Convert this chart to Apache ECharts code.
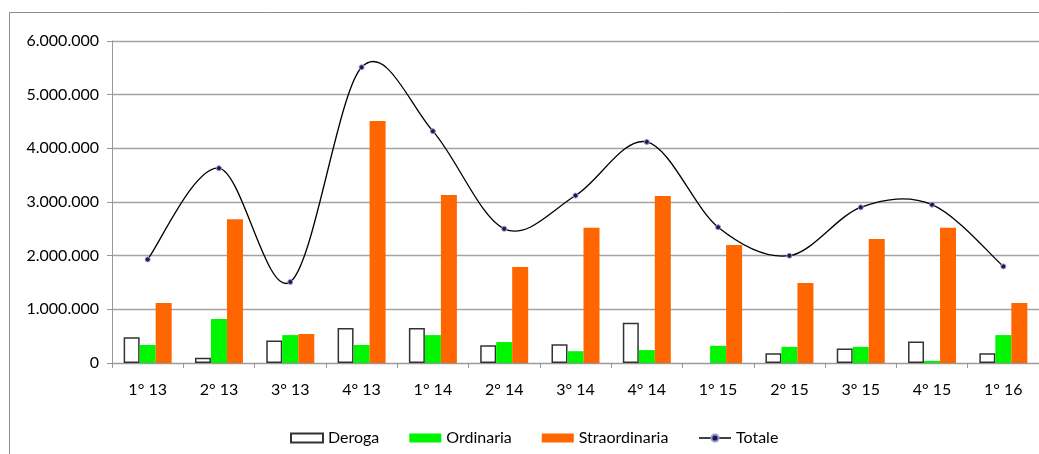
<!DOCTYPE html>
<html>
<head>
<meta charset="utf-8">
<script src="https://cdn.jsdelivr.net/npm/echarts@6/dist/echarts.min.js"></script>
<style>
  html, body { margin: 0; padding: 0; background: #fff; }
</style>
</head>
<body>
<div id="chart" style="width: 1039px; height: 454px;"></div>
<script>
// trimestri
var categories = ["1° 13", "2° 13", "3° 13", "4° 13", "1° 14", "2° 14", "3° 14",
                  "4° 14", "1° 15", "2° 15", "3° 15", "4° 15", "1° 16"];
var deroga = [480000, 100000, 420000, 650000, 650000, 330000, 350000,
              750000, null, 180000, 270000, 400000, 180000];
var ordinaria = [335000, 820000, 520000, 335000, 520000, 390000, 220000,
                 240000, 320000, 300000, 300000, 40000, 520000];
var straordinaria = [1120000, 2680000, 540000, 4510000, 3130000, 1790000, 2520000,
                     3110000, 2200000, 1490000, 2310000, 2520000, 1120000];
var totale = [1930000, 3630000, 1510000, 5510000, 4320000, 2500000, 3120000,
              4120000, 2530000, 2000000, 2900000, 2950000, 1800000];

var FONT = "Lato";

function formatNum(v) {
  return String(v).replace(/\B(?=(\d{3})+(?!\d))/g, ".");
}

// curva smussata tipo Excel (Catmull-Rom), un segmento per punto
function renderCurve(params, api) {
  var i = params.dataIndex;
  if (i >= totale.length - 1) return null;
  var pt = function (k) {
    k = Math.max(0, Math.min(totale.length - 1, k));
    return api.coord([k, totale[k]]);
  };
  var p0 = pt(i - 1), p1 = pt(i), p2 = pt(i + 1), p3 = pt(i + 2);
  return {
    type: "bezierCurve",
    shape: {
      x1: p1[0], y1: p1[1],
      cpx1: p1[0] + (p2[0] - p0[0]) / 6, cpy1: p1[1] + (p2[1] - p0[1]) / 6,
      cpx2: p2[0] - (p3[0] - p1[0]) / 6, cpy2: p2[1] - (p3[1] - p1[1]) / 6,
      x2: p2[0], y2: p2[1]
    },
    style: { fill: "none", stroke: "#000", lineWidth: 1.3 },
    silent: true
  };
}

var chart = echarts.init(document.getElementById("chart"));

chart.setOption({
  animation: false,
  textStyle: { fontFamily: FONT },
  graphic: [{
    type: "rect",
    shape: { x: 9.5, y: 12.5, width: 1100, height: 500 },
    style: { fill: "none", stroke: "#8c8c8c", lineWidth: 1 },
    silent: true
  }],
  grid: { left: 112, right: 0, top: 41, bottom: 91 },
  legend: {
    bottom: 3,
    left: 285,
    itemWidth: 32,
    itemHeight: 9,
    itemGap: 30,
    textStyle: { fontFamily: FONT, fontSize: 16, color: "#000" },
    data: [
      { name: "Deroga", icon: "rect" },
      { name: "Ordinaria", icon: "rect" },
      { name: "Straordinaria", icon: "rect" },
      { name: "Totale", lineStyle: { color: "#000", width: 1.3, opacity: 1 } }
    ]
  },
  xAxis: {
    type: "category",
    data: categories,
    boundaryGap: true,
    axisLine: { lineStyle: { color: "#999", width: 1 } },
    axisTick: { show: true, length: 5, lineStyle: { color: "#999" } },
    axisLabel: { color: "#000", fontSize: 16, margin: 19, fontFamily: FONT }
  },
  yAxis: {
    type: "value",
    min: 0,
    max: 6000000,
    interval: 1000000,
    axisLine: { show: true, lineStyle: { color: "#999", width: 1 } },
    axisTick: { show: true, length: 5, lineStyle: { color: "#999" } },
    axisLabel: {
      color: "#000", fontSize: 16, margin: 13, fontFamily: FONT,
      formatter: formatNum
    },
    splitLine: { lineStyle: { color: "#a3a3a3", width: 1.3 } }
  },
  series: [
    {
      name: "Deroga",
      type: "bar",
      data: deroga,
      barWidth: 16,
      barGap: "0%",
      itemStyle: { color: "#ffffff", borderColor: "#333", borderWidth: 1.5 }
    },
    {
      name: "Ordinaria",
      type: "bar",
      data: ordinaria,
      barWidth: 16,
      barGap: "0%",
      itemStyle: { color: "#00f500" }
    },
    {
      name: "Straordinaria",
      type: "bar",
      data: straordinaria,
      barWidth: 16,
      barGap: "0%",
      itemStyle: { color: "#ff6600" }
    },
    {
      name: "Totale",
      type: "line",
      data: totale,
      z: 4,
      symbol: "circle",
      symbolSize: 5,
      lineStyle: { opacity: 0 },
      itemStyle: { color: "#1a1a4d", borderColor: "#9a9ad0", borderWidth: 1 }
    },
    {
      name: "curva",
      type: "custom",
      data: totale,
      z: 3,
      renderItem: renderCurve
    }
  ]
});
</script>
</body>
</html>
